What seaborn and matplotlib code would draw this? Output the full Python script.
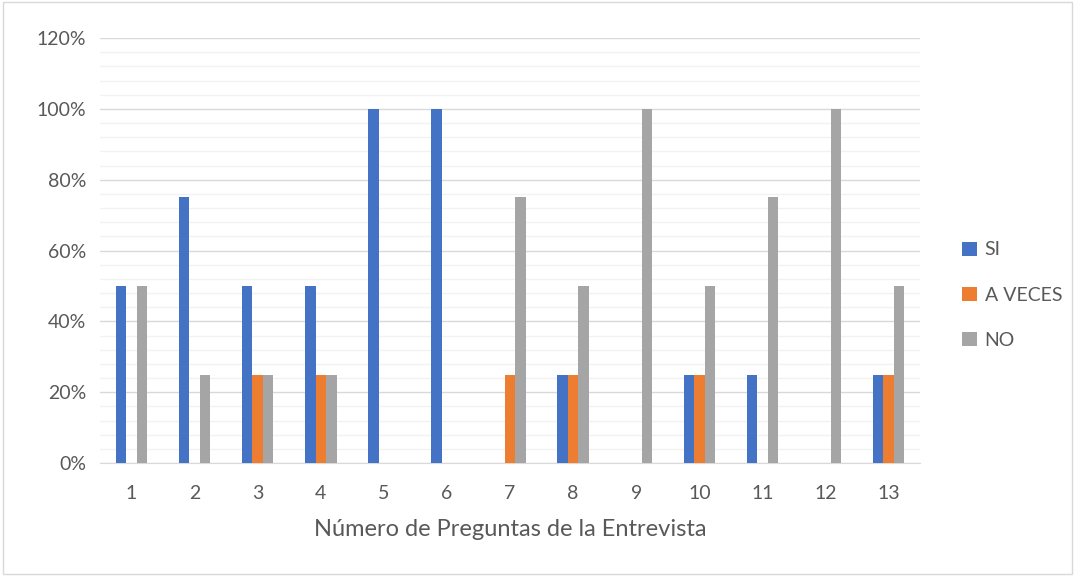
import numpy as np
import pandas as pd
import seaborn as sns
import matplotlib.pyplot as plt
from matplotlib.ticker import MultipleLocator, PercentFormatter
from matplotlib.patches import Rectangle, Patch

sns.set_style("white")
plt.rcParams['font.family'] = ['Lato', 'DejaVu Sans']

# data
preguntas = ['1', '2', '3', '4', '5', '6', '7', '8', '9', '10', '11', '12', '13']
si = [50, 75, 50, 50, 100, 100, 0, 25, 0, 25, 25, 0, 25]
a_veces = [0, 0, 25, 25, 0, 0, 25, 25, 0, 25, 0, 0, 25]
no = [50, 25, 25, 25, 0, 0, 75, 50, 100, 50, 75, 100, 50]
series = ['SI', 'A VECES', 'NO']
colores = ['#4472C4', '#ED7D31', '#A5A5A5']

df = pd.DataFrame({'Pregunta': preguntas, 'SI': si, 'A VECES': a_veces, 'NO': no})
df = df.melt(id_vars='Pregunta', var_name='Respuesta', value_name='Porcentaje')

fig = plt.figure(figsize=(10.75, 5.76), dpi=100)
ax = fig.add_axes([0.093, 0.196, 0.763, 0.738])

sns.barplot(data=df, x='Pregunta', y='Porcentaje', hue='Respuesta', hue_order=series,
            palette=colores, width=0.5, saturation=1, linewidth=0, ax=ax, zorder=3,
            legend=False)

# hide zero-height bars like Excel does
for p in ax.patches:
    if p.get_height() == 0:
        p.set_visible(False)

ax.set_ylim(0, 120)
ax.yaxis.set_major_locator(MultipleLocator(20))
ax.yaxis.set_minor_locator(MultipleLocator(4))
ax.yaxis.set_major_formatter(PercentFormatter(decimals=0))
ax.grid(which='major', axis='y', color='#D9D9D9', linewidth=1, zorder=0)
ax.grid(which='minor', axis='y', color='#F2F2F2', linewidth=1, zorder=0)
ax.set_axisbelow(True)
for s in ['top', 'right', 'left']:
    ax.spines[s].set_visible(False)
ax.spines['bottom'].set_color('#D9D9D9')
ax.tick_params(axis='both', which='both', length=0, labelsize=14, labelcolor='#595959')
ax.tick_params(axis='x', pad=16)
ax.tick_params(axis='y', pad=10)
ax.set_xlabel('Número de Preguntas de la Entrevista', fontsize=17, color='#595959', labelpad=12)
ax.set_ylabel('')

handles = [Patch(facecolor=c, edgecolor='none') for c in colores]
leg = ax.legend(handles, series, loc='center left', bbox_to_anchor=(1.03, 0.395), frameon=False,
                fontsize=14, labelcolor='#595959', handlelength=0.75, handleheight=0.75,
                handletextpad=0.4, labelspacing=1.45)

fig.patches.append(Rectangle((0.003, 0.003), 0.994, 0.994, transform=fig.transFigure,
                             fill=False, edgecolor='#D9D9D9', linewidth=1))

fig.savefig('out.png', dpi=100)
